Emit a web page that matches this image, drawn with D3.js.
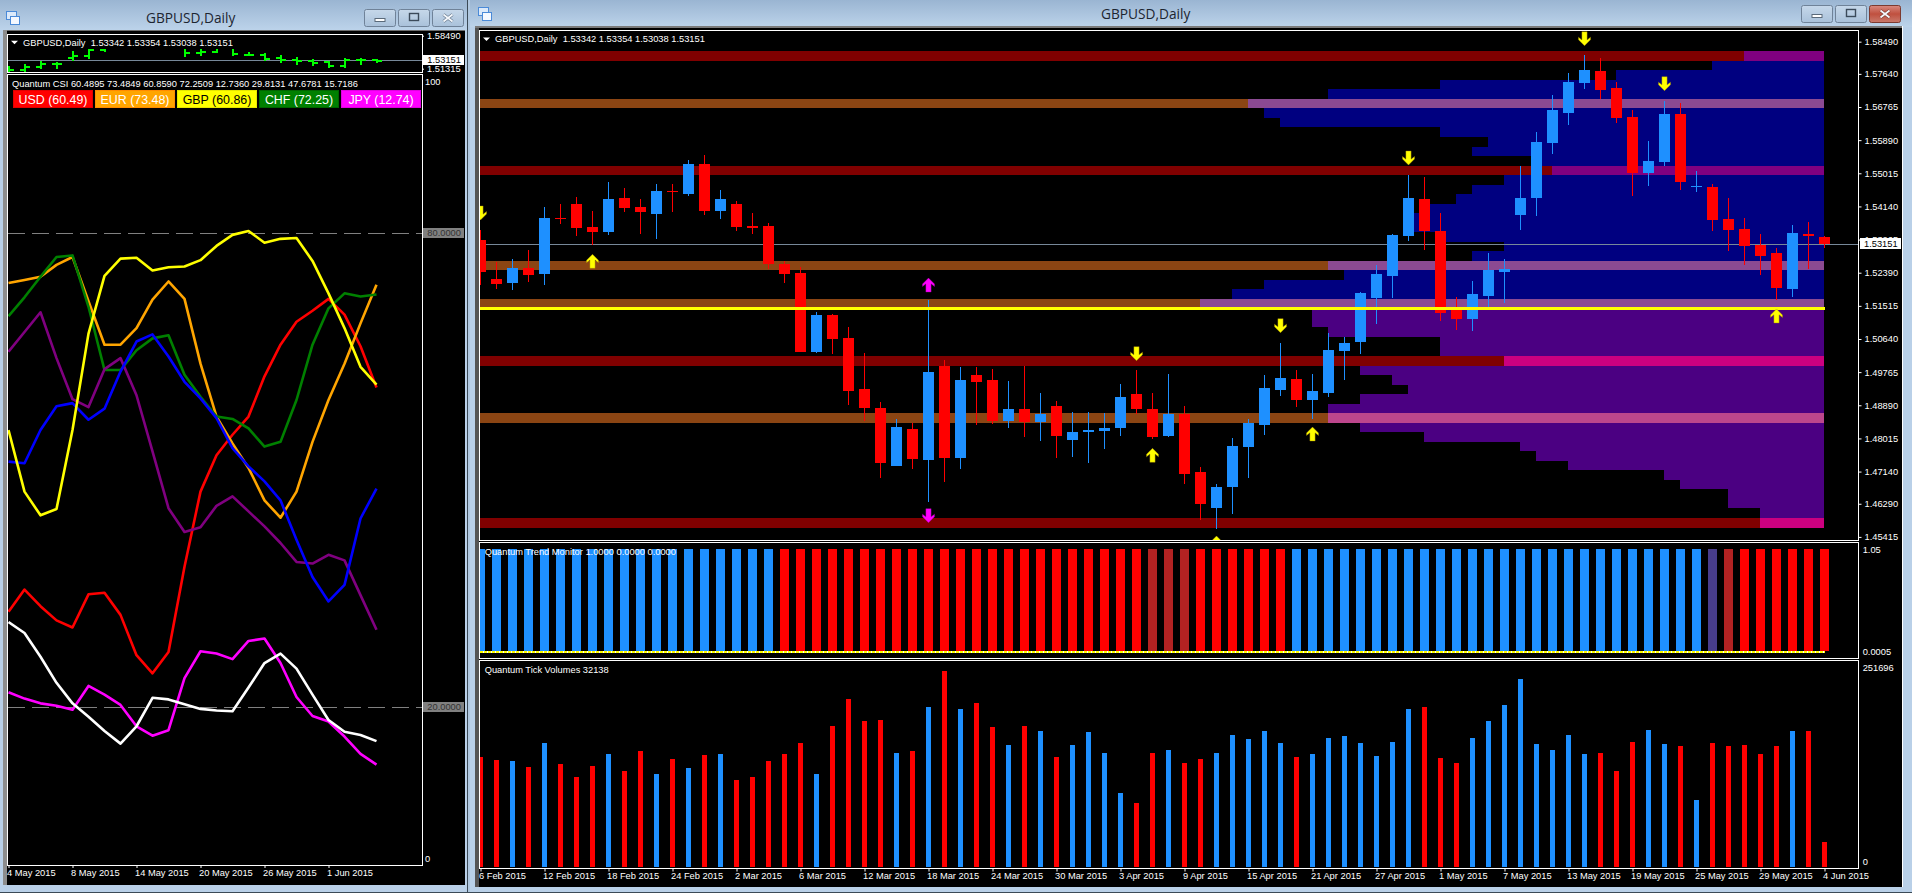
<!DOCTYPE html>
<html><head><meta charset="utf-8"><title>GBPUSD,Daily</title>
<script src="https://cdn.jsdelivr.net/npm/d3@7/dist/d3.min.js"></script>
<style>html,body{margin:0;padding:0;background:#b9d0e8;overflow:hidden}svg{display:block}
text{font-family:"Liberation Sans",Arial,sans-serif;font-size:9.3px;fill:#fff}
.domain{display:none}.tick line{stroke:#fff}
</style></head><body><svg id="c" width="1912" height="893"></svg>
<script>
const openP=[1.53254,1.52224,1.52119,1.52515,1.52356,1.53835,1.54204,1.53597,1.53465,1.54363,1.54125,1.53940,1.54548,1.54468,1.55260,1.54020,1.54204,1.53624,1.53624,1.52620,1.52383,1.50297,1.51274,1.50667,1.49320,1.48819,1.47288,1.48264,1.47446,1.49928,1.47499,1.49690,1.49558,1.48476,1.48792,1.48449,1.48872,1.47974,1.48185,1.48212,1.48291,1.49188,1.48792,1.48080,1.48660,1.47129,1.46179,1.46733,1.47789,1.48370,1.49294,1.49584,1.49030,1.49215,1.50324,1.50561,1.51723,1.52304,1.53360,1.54336,1.53492,1.51432,1.51168,1.51776,1.52409,1.53914,1.54363,1.55815,1.56607,1.57399,1.57716,1.57267,1.56501,1.55023,1.55313,1.56580,1.54653,1.54653,1.53808,1.53544,1.53122,1.52911,1.51960,1.53412,1.53342];
const closeP=[1.52418,1.52092,1.52515,1.52330,1.53835,1.53808,1.53571,1.53465,1.54336,1.54099,1.53993,1.54548,1.54521,1.55260,1.54020,1.54336,1.53597,1.53571,1.52620,1.52356,1.50297,1.51274,1.50640,1.49268,1.48819,1.47367,1.48317,1.47472,1.49769,1.47499,1.49558,1.49505,1.48476,1.48792,1.48449,1.48660,1.48080,1.48185,1.48238,1.48291,1.49109,1.48792,1.48053,1.48660,1.47076,1.46284,1.46733,1.47816,1.48423,1.49347,1.49611,1.49030,1.49268,1.50350,1.50535,1.51855,1.52356,1.53386,1.54363,1.53492,1.51327,1.51168,1.51828,1.52462,1.52488,1.54363,1.55841,1.56686,1.57425,1.57742,1.57214,1.56475,1.55023,1.55340,1.56580,1.54785,1.54680,1.53782,1.53518,1.53096,1.52832,1.51987,1.53439,1.53360,1.53151];
const highP=[1.53518,1.52682,1.52752,1.52990,1.54125,1.54204,1.54389,1.54020,1.54785,1.54627,1.54336,1.54732,1.54732,1.55366,1.55498,1.54574,1.54284,1.53967,1.53703,1.52700,1.52541,1.51353,1.51300,1.50957,1.50271,1.48977,1.48528,1.48423,1.51670,1.50086,1.49901,1.49901,1.49848,1.49532,1.49928,1.49215,1.49004,1.48713,1.48713,1.48687,1.49452,1.49822,1.49215,1.49716,1.48872,1.47261,1.46812,1.48027,1.48528,1.49690,1.50535,1.49822,1.49716,1.50799,1.50693,1.51881,1.52594,1.53412,1.54970,1.54917,1.53967,1.51749,1.52172,1.52911,1.52752,1.55208,1.56105,1.57082,1.57663,1.58138,1.58059,1.57425,1.56686,1.55868,1.56924,1.56871,1.55076,1.54732,1.54363,1.53835,1.53412,1.53043,1.53650,1.53729,1.53354];
const lowP=[1.52066,1.51960,1.51934,1.52145,1.52066,1.53676,1.53360,1.53122,1.53386,1.53993,1.53412,1.53280,1.53993,1.54416,1.53914,1.53808,1.53492,1.53412,1.52488,1.52119,1.50297,1.50271,1.50244,1.48898,1.48476,1.46971,1.47288,1.47208,1.46337,1.46865,1.47208,1.48370,1.48396,1.48291,1.48053,1.47948,1.47499,1.47525,1.47367,1.47736,1.48080,1.48660,1.48000,1.48053,1.46812,1.45862,1.45624,1.46020,1.46971,1.48106,1.49136,1.48845,1.48528,1.49109,1.49558,1.50244,1.51036,1.51723,1.53228,1.52990,1.51116,1.50878,1.50852,1.51459,1.51591,1.53518,1.53888,1.55524,1.56290,1.57240,1.56976,1.56343,1.54416,1.54680,1.55208,1.54574,1.54521,1.53492,1.52964,1.52594,1.52330,1.51670,1.51749,1.52488,1.53038];
const volumes=[141400,137600,136300,128600,159400,132500,115800,129900,145300,123500,149100,119600,138900,127300,144000,145300,112000,115800,136300,145300,159400,119600,181200,215800,187600,188900,146600,149100,205500,251696,203000,210700,179900,156800,181200,174800,141400,156800,173500,146600,95300,82500,146600,150400,133700,138900,146600,169600,164500,174800,159400,141400,145300,165800,168400,159400,142700,160700,203000,205500,140200,133700,165800,187600,208100,241400,158100,150400,169600,145300,146600,123500,160700,176000,158100,155500,86300,159400,155500,156800,145300,155500,174800,174800,32138];
const volumeUp=[0,0,1,0,1,0,0,0,1,0,0,1,0,1,0,1,0,0,0,0,0,1,0,0,0,0,1,0,1,0,1,0,0,1,0,1,0,1,1,1,1,0,0,1,0,0,1,1,1,1,1,0,1,1,1,1,1,1,1,0,0,0,1,1,1,1,1,1,1,1,0,0,0,1,1,0,1,0,0,0,0,0,1,0,0];
const trendState="BBBBBBBBBBBBBBBBBBBRRRRRRRRRRRRRRRRRRRRRRRFFFRRRRRRBBBBBBBBBBBBBBBBBBBBBBBBBBSFRRRRRR".split("");
const trendValue=1.0;
const dateTickBars=[0,4,8,12,16,20,24,28,32,36,40,44,48,52,56,60,64,68,72,76,80,84];
const dateTickLabels=["6 Feb 2015","12 Feb 2015","18 Feb 2015","24 Feb 2015","2 Mar 2015","6 Mar 2015","12 Mar 2015","18 Mar 2015","24 Mar 2015","30 Mar 2015","3 Apr 2015","9 Apr 2015","15 Apr 2015","21 Apr 2015","27 Apr 2015","1 May 2015","7 May 2015","13 May 2015","19 May 2015","25 May 2015","29 May 2015","4 Jun 2015"];
const priceTicks=[1.58490,1.57640,1.56765,1.55890,1.55015,1.54140,1.53265,1.52390,1.51515,1.50640,1.49765,1.48890,1.48015,1.47140,1.46290,1.45415];
const lastPrice=1.53151, supportPrice=1.51450;
// volume profile: price edges, row length counted in bars from the right, kind
const profileTop=[1.57980,1.57742,1.57478,1.57240,1.56976,1.56739,1.56475,1.56237,1.55973,1.55709,1.55472,1.55208,1.54970,1.54706,1.54468,1.54204,1.53967,1.53465,1.53201,1.52964,1.52700,1.52462,1.52198,1.51960,1.51696,1.51485,1.50957,1.50693,1.50192,1.49928,1.49690,1.49426,1.49188,1.48924,1.48687,1.48423,1.48185,1.47921,1.47684,1.47420,1.47182,1.46918,1.46680,1.46179];
const profileBottom=[1.57742,1.57478,1.57240,1.56976,1.56739,1.56475,1.56237,1.55973,1.55709,1.55472,1.55208,1.54970,1.54706,1.54468,1.54204,1.53967,1.53465,1.53201,1.52964,1.52700,1.52462,1.52198,1.51960,1.51696,1.51485,1.50957,1.50693,1.50192,1.49928,1.49690,1.49426,1.49188,1.48924,1.48687,1.48423,1.48185,1.47921,1.47684,1.47420,1.47182,1.46918,1.46680,1.46179,1.45915];
const profileBars=[7,13,24,31,36,35,34,24,21,22,18,17,20,22,23,25,26,24,20,22,31,30,35,37,39,32,31,24,20,29,27,26,29,31,31,29,25,19,18,16,10,9,6,4];
const profileAboveCount=25;
// support/resistance zones
const zoneTop=[1.58244,1.56976,1.55208,1.52700,1.51696,1.50192,1.48687,1.45915];
const zoneBottom=[1.57980,1.56739,1.54970,1.52462,1.51485,1.49928,1.48423,1.45651];
const zoneBase=["#800000","#8B4513","#800000","#8B4513","#8B4513","#800000","#8B4513","#800000"];
const zoneOver=["#800080","#8B4A92","#800080","#8B4A92","#8B4A92","#CC0080","#BC468C","#CC0080"];
const zoneOverBars=[5,36,17,31,39,20,31,4];
const arrowBar=[0,41,50,58,69,74,7,42,52,46,81,28,28];
const arrowPrice=[1.53967,1.50253,1.50992,1.55419,1.58569,1.57381,1.52691,1.47569,1.48132,1.45255,1.51248,1.52066,1.45976];
const arrowDir=[-1,-1,-1,-1,-1,-1,1,1,1,1,1,1,-1];
const arrowColor=["#ffff00","#ffff00","#ffff00","#ffff00","#ffff00","#ffff00","#ffff00","#ffff00","#ffff00","#ffff00","#ffff00","#ff00ff","#ff00ff"];
// CSI lines
const csiUSD=[32.1,34.9,32.8,31.0,30.1,34.3,34.5,31.7,26.6,24.3,27.0,37.8,47.3,51.9,54.5,56.8,61.9,65.9,68.8,70.2,71.7,69.7,65.7,60.49];
const csiEUR=[73.7,74.1,74.5,76.0,77.0,71.4,65.9,65.9,68.0,71.6,73.9,71.7,63.5,56.8,53.4,50.3,46.2,44.0,47.3,53.6,58.9,63.5,68.6,73.48];
const csiGBP=[55.1,47.3,44.3,45.1,55.1,67.3,74.6,76.8,76.9,75.3,75.7,75.8,76.6,78.4,79.8,80.3,78.8,79.3,79.4,76.5,72.4,68.0,63.1,60.86];
const csiCHF=[69.5,71.9,74.5,77.0,77.2,70.7,62.7,62.7,65.2,66.7,67.1,62.1,59.3,56.8,56.5,55.3,53.0,53.6,58.9,65.9,70.5,72.4,72.0,72.25];
const csiPurple=[65.0,67.5,70.0,64.2,59.0,58.0,62.8,64.2,59.5,52.4,45.2,42.2,42.8,45.5,46.7,44.8,42.9,40.8,38.4,38.2,39.3,38.6,34.2,29.81];
const csiBlue=[51.1,50.9,55.1,58.1,58.5,56.4,57.8,62.5,66.3,67.2,64.4,61.2,59.1,56.6,52.8,50.5,48.6,46.2,41.2,36.5,33.4,35.5,43.9,47.68];
const csiWhite=[30.8,29.4,26.4,23.1,20.5,18.8,17.0,15.4,17.6,21.2,21.0,20.4,19.8,19.6,19.5,22.5,25.6,26.8,24.9,21.6,18.4,16.9,16.5,15.72];
const csiJPY=[21.9,21.1,20.5,20.2,19.7,22.7,21.6,20.3,17.6,16.4,17.1,23.7,27.1,26.8,26.1,28.4,28.7,25.6,21.3,18.9,18.2,16.3,14.1,12.74];
const csiLines=[[csiUSD,"#ff0000"],[csiEUR,"#ffa500"],[csiCHF,"#008000"],[csiPurple,"#800080"],[csiBlue,"#0000ff"],[csiGBP,"#ffff00"],[csiJPY,"#ff00ff"],[csiWhite,"#ffffff"]];
const legendNames=["USD (60.49)","EUR (73.48)","GBP (60.86)","CHF (72.25)","JPY (12.74)"];
const legendFill=["#ff0000","#ffa500","#ffff00","#008000","#ff00ff"];
const legendEdge=["#e00000","#ff8c00","#e6e600","#006400","#e000e0"];
const legendText=["#ffffff","#ffffff","#000000","#ffffff","#ffffff"];
const leftTickBars=[0,4,8,12,16,20];
const leftTickLabels=["4 May 2015","8 May 2015","14 May 2015","20 May 2015","26 May 2015","1 Jun 2015"];
const miniStart=61;

const svg=d3.select("#c");
const defs=svg.append("defs");
const grad=defs.append("linearGradient").attr("id","tb").attr("x1",0).attr("y1",0).attr("x2",0).attr("y2",1);
grad.append("stop").attr("offset",0).attr("stop-color","#9ab5d2");
grad.append("stop").attr("offset",1).attr("stop-color","#bcd3ea");
const redg=defs.append("linearGradient").attr("id","cl").attr("x1",0).attr("y1",0).attr("x2",0).attr("y2",1);
redg.append("stop").attr("offset",0).attr("stop-color","#d98a80");
redg.append("stop").attr("offset",.5).attr("stop-color","#c0503f");
redg.append("stop").attr("offset",1).attr("stop-color","#c97a6c");
const btng=defs.append("linearGradient").attr("id","bt").attr("x1",0).attr("y1",0).attr("x2",0).attr("y2",1);
btng.append("stop").attr("offset",0).attr("stop-color","#c6d8ea");
btng.append("stop").attr("offset",1).attr("stop-color","#a9c1da");
function clip(id,x,y,w,h){defs.append("clipPath").attr("id",id).append("rect").attr("x",x).attr("y",y).attr("width",w).attr("height",h);}
clip("cMain",480,31,1378,509);clip("cTrend",480,543,1378,115);clip("cVol",480,661,1378,207);
clip("cMini",8,49,414,23);clip("cCsi",8,75,414,790);

function R(g,x,y,w,h,f){return g.append("rect").attr("x",x).attr("y",y).attr("width",w).attr("height",h).attr("fill",f).attr("shape-rendering","crispEdges");}
function T(g,x,y,s,o={}){const t=g.append("text").attr("x",x).attr("y",y).attr("dy",".35em").text(s);for(const k in o)t.style(k,o[k]);return t;}
// ---- chrome
const ch=svg.append("g");
R(ch,0,0,1912,893,"#b9d0e8");
function titleBar(x,w,y,h){R(ch,x,y,w,h,"url(#tb)");}
titleBar(0,467,0,30);titleBar(470,1442,0,27);
R(ch,467,0,1,893,"#3b4a57");R(ch,468,0,2,893,"#b0c8e0");
R(ch,0,892,1912,1,"#3b4a57");
R(ch,3,30,462,855,"#000");R(ch,3,30,462,1,"#6d6d6d");R(ch,3,30,4,855,"#8d8d8d");
R(ch,475,26,1427,861,"#000");R(ch,475,26,1427,2,"#7a7a7a");R(ch,475,28,4,859,"#555");R(ch,1902,26,1,861,"#fff");
T(ch,146,18,"GBPUSD,Daily",{"font-family":"'Open Sans'","font-size":"13.7px",fill:"#1c2530"});
T(ch,1101,14.5,"GBPUSD,Daily",{"font-family":"'Open Sans'","font-size":"13.7px",fill:"#1c2530"});
function winBtn(x,y,kind,close){
  const w=32,h=18;
  ch.append("rect").attr("x",x+.5).attr("y",y+.5).attr("width",w-1).attr("height",h-1).attr("rx",2).attr("fill",close?"url(#cl)":"url(#bt)").attr("stroke",close?"#7c3a30":"#6f8298");
  const cx=x+w/2,cy=y+h/2;
  if(kind==0)ch.append("rect").attr("x",cx-5).attr("y",cy+.5).attr("width",10).attr("height",3).attr("fill","#fff").attr("stroke","#5a6a7a");
  if(kind==1)ch.append("rect").attr("x",cx-4.5).attr("y",cy-4.5).attr("width",9).attr("height",7).attr("fill","none").attr("stroke","#3b4a5a").attr("stroke-width",1.4);
  if(kind==2){
    const d=`M${cx-4.5},${cy-3.5}L${cx+4.5},${cy+3.5}M${cx+4.5},${cy-3.5}L${cx-4.5},${cy+3.5}`;
    ch.append("path").attr("d",d).attr("stroke",close?"#7c3a30":"#6a7c90").attr("stroke-width",3.2);
    ch.append("path").attr("d",d).attr("stroke","#f4f8fc").attr("stroke-width",1.8);
  }
}
winBtn(364,9,0,false);winBtn(398,9,1,false);winBtn(432,9,2,false);
winBtn(1801,5,0,false);winBtn(1835,5,1,false);winBtn(1869,5,2,true);
function icon(x,y){
  ch.append("rect").attr("x",x+.5).attr("y",y+.5).attr("width",10).attr("height",8).attr("fill","#dbe9fa").attr("stroke","#4a8ad8");
  ch.append("rect").attr("x",x+4.5).attr("y",y+5.5).attr("width",9).attr("height",8).attr("fill","#f4f8ff").attr("stroke","#4a8ad8");
}
icon(6,11);icon(478,7);

// ---- right chart scales
const x=d3.scaleLinear().domain([0,84]).range([480.5,1824.5]);
const y=d3.scaleLinear().domain([1.58490,1.45415]).range([41.67,536.9]);
const n=d3.range(openP.length);
const main=svg.append("g").attr("clip-path","url(#cMain)");
const rowRight=x(84)-.5;
const profileColor=i=>i<profileAboveCount?"#000080":"#4B0082";
main.selectAll("rect.pf").data(profileBars).join("rect").attr("class","pf").attr("shape-rendering","crispEdges")
  .attr("x",d=>x(84-d)-.5).attr("width",d=>rowRight-(x(84-d)-.5))
  .attr("y",(d,i)=>y(profileTop[i])).attr("height",(d,i)=>y(profileBottom[i])-y(profileTop[i]))
  .attr("fill",(d,i)=>profileColor(i));
main.selectAll("rect.zb").data(zoneTop).join("rect").attr("class","zb").attr("shape-rendering","crispEdges")
  .attr("x",x(0)-.5).attr("width",rowRight-x(0)+.5).attr("y",d=>y(d)).attr("height",(d,i)=>y(zoneBottom[i])-y(d)).attr("fill",(d,i)=>zoneBase[i]);
main.selectAll("rect.zo").data(zoneTop).join("rect").attr("class","zo").attr("shape-rendering","crispEdges")
  .attr("x",(d,i)=>x(84-zoneOverBars[i])-.5).attr("width",(d,i)=>rowRight-(x(84-zoneOverBars[i])-.5)).attr("y",d=>y(d)).attr("height",(d,i)=>y(zoneBottom[i])-y(d)).attr("fill",(d,i)=>zoneOver[i]);
main.append("line").attr("x1",480).attr("x2",1858).attr("y1",Math.round(y(lastPrice))+.5).attr("y2",Math.round(y(lastPrice))+.5).attr("stroke","#778899").attr("stroke-width",1);
const isUp=i=>closeP[i]>openP[i];
const cCol=i=>isUp(i)?"#1E90FF":"#FF0000";
main.selectAll("rect.w").data(n).join("rect").attr("class","w").attr("shape-rendering","crispEdges")
  .attr("x",i=>x(i)-.5).attr("width",1).attr("y",i=>y(highP[i])).attr("height",i=>y(lowP[i])-y(highP[i])).attr("fill",cCol);
main.selectAll("rect.b").data(n).join("rect").attr("class","b").attr("shape-rendering","crispEdges")
  .attr("x",i=>x(i)-5.5).attr("width",11).attr("y",i=>y(Math.max(openP[i],closeP[i]))).attr("height",i=>Math.max(1,Math.abs(y(openP[i])-y(closeP[i])))).attr("fill",cCol);
main.append("rect").attr("x",480).attr("width",x(84)+.5-480).attr("y",y(supportPrice)-1.5).attr("height",3).attr("fill","#ffff00").attr("shape-rendering","crispEdges");
const arrowPath="M0,-7L6,-1L6,1.5L2.6,-1.2L2.6,7L-2.6,7L-2.6,-1.2L-6,1.5L-6,-1Z";
main.selectAll("path.ar").data(arrowBar).join("path").attr("class","ar").attr("d",arrowPath)
  .attr("transform",(d,i)=>`translate(${x(d)},${y(arrowPrice[i])}) scale(1,${arrowDir[i]})`)
  .attr("fill",(d,i)=>arrowColor[i]).attr("stroke",(d,i)=>arrowColor[i]=="#ffff00"?"#a08000":"#a000a0").attr("stroke-width",.4);

// price axis
const priceAxis=svg.append("g").attr("transform","translate(1858.5,0)")
  .call(d3.axisRight(y).tickValues(priceTicks).tickFormat(d3.format(".5f")).tickSize(3));
R(svg,1860,238,41,11,"#fff");
T(svg,1864,243.6,"1.53151",{fill:"#000"});

// trend monitor
const trendY=d3.scaleLinear().domain([0,1]).range([651,549]);
const trendCol={B:"#1E90FF",R:"#FF0000",F:"#B22222",S:"#483D8B"};
const trendG=svg.append("g").attr("clip-path","url(#cTrend)");
trendG.selectAll("rect").data(trendState).join("rect").attr("shape-rendering","crispEdges")
  .attr("x",(d,i)=>x(i)-4.5).attr("width",9).attr("y",trendY(trendValue)).attr("height",trendY(0)-trendY(trendValue)).attr("fill",d=>trendCol[d]);
svg.append("line").attr("x1",480).attr("x2",x(84)+.5).attr("y1",trendY(0)+1).attr("y2",trendY(0)+1).attr("stroke","#fff").attr("stroke-width",2);
svg.append("line").attr("x1",480).attr("x2",x(84)+.5).attr("y1",trendY(0)+1).attr("y2",trendY(0)+1).attr("stroke","#ffff00").attr("stroke-width",2).attr("stroke-dasharray","3,1");

// volumes
const vy=d3.scaleLinear().domain([0,251696]).range([867.3,671]);
const volG=svg.append("g").attr("clip-path","url(#cVol)");
volG.selectAll("rect").data(volumes).join("rect").attr("shape-rendering","crispEdges")
  .attr("x",(d,i)=>x(i)-2.5).attr("width",5).attr("y",d=>vy(d)).attr("height",d=>vy(0)-vy(d)).attr("fill",(d,i)=>volumeUp[i]?"#1E90FF":"#FF0000");
// date axis
const dax=svg.append("g").attr("transform","translate(0,868.5)")
  .call(d3.axisBottom(x).tickValues(dateTickBars).tickFormat((d,i)=>dateTickLabels[i]).tickSize(3));
dax.selectAll("text").attr("text-anchor","start").attr("dx","-2").attr("y",4);

// panel borders
function box(x0,y0,x1,y1){svg.append("rect").attr("x",x0).attr("y",y0).attr("width",x1-x0).attr("height",y1-y0).attr("fill","none").attr("stroke","#fff").attr("shape-rendering","crispEdges");}
box(479.5,30.5,1858.5,540.5);box(479.5,542.5,1858.5,658.5);box(479.5,660.5,1858.5,868.5);
// panel text
function tri(g,x0,y0){g.append("path").attr("d",`M${x0},${y0}h7l-3.5,3.5z`).attr("fill","#fff");}
tri(svg,483,37.5);T(svg,495,38.7,"GBPUSD,Daily  1.53342 1.53354 1.53038 1.53151").attr("xml:space","preserve");
T(svg,484.7,551.7,"Quantum Trend Monitor 1.0000 0.0000 0.0000");
T(svg,484.7,669.3,"Quantum Tick Volumes 32138");
T(svg,1862.7,549.6,"1.05");T(svg,1862.7,651.8,"0.0005");
T(svg,1862.7,667.7,"251696");T(svg,1862.7,861.5,"0");

// ---- left chart
const lx=d3.scaleLinear().domain([0,23]).range([8.5,376.5]);
const my=d3.scaleLinear().domain([1.58490,1.51315]).range([38.5,69]);
const mini=svg.append("g").attr("clip-path","url(#cMini)");
mini.append("line").attr("x1",8).attr("x2",422).attr("y1",60.5).attr("y2",60.5).attr("stroke","#778899");
const miniIdx=d3.range(miniStart,openP.length);
const miniG=mini.selectAll("g").data(miniIdx).join("g").attr("stroke","#00ff00").attr("stroke-width",2).attr("shape-rendering","crispEdges");
miniG.append("line").attr("x1",(d,k)=>lx(k)).attr("x2",(d,k)=>lx(k)).attr("y1",d=>my(highP[d])-1).attr("y2",d=>my(lowP[d])+1);
miniG.append("line").attr("x1",(d,k)=>lx(k)-5).attr("x2",(d,k)=>lx(k)).attr("y1",d=>my(openP[d])).attr("y2",d=>my(openP[d]));
miniG.append("line").attr("x1",(d,k)=>lx(k)).attr("x2",(d,k)=>lx(k)+5).attr("y1",d=>my(closeP[d])).attr("y2",d=>my(closeP[d]));

const cy=d3.scaleLinear().domain([0,100]).range([865.3,75.3]);
const cG=svg.append("g").attr("clip-path","url(#cCsi)");
[80,20].forEach(v=>cG.append("line").attr("x1",8).attr("x2",422).attr("y1",Math.round(cy(v))+.5).attr("y2",Math.round(cy(v))+.5).attr("stroke","#808080").attr("stroke-dasharray","17,7"));
const ln=d3.line().x((d,k)=>lx(k)).y(d=>cy(d));
cG.selectAll("path.l").data(csiLines).join("path").attr("class","l").attr("d",d=>ln(d[0])).attr("fill","none").attr("stroke",d=>d[1]).attr("stroke-width",2.6).attr("stroke-linejoin","round");

// left labels
box(7.5,34.5,422,72.5);box(7.5,74.5,422,865);
tri(svg,11,40.7);T(svg,23,42.4,"GBPUSD,Daily  1.53342 1.53354 1.53038 1.53151").attr("xml:space","preserve");
T(svg,12,83.4,"Quantum CSI 60.4895 73.4849 60.8590 72.2509 12.7360 29.8131 47.6781 15.7186");
const lg=svg.append("g");
lg.selectAll("rect").data(legendNames).join("rect").attr("shape-rendering","crispEdges")
  .attr("x",(d,i)=>13.5+i*82).attr("y",90.5).attr("width",79).attr("height",17)
  .attr("fill",(d,i)=>legendFill[i]).attr("stroke",(d,i)=>legendEdge[i]);
lg.selectAll("text").data(legendNames).join("text").attr("x",(d,i)=>53+i*82).attr("y",99.5).attr("dy",".35em").attr("text-anchor","middle")
  .text(d=>d).style("font-size","12.4px").style("fill",(d,i)=>legendText[i]);
// right axis labels left
svg.append("g").attr("transform","translate(422,0)").call(d3.axisRight(d3.scaleLinear().domain([1.58490,1.51315]).range([35.7,68.7])).tickValues([1.58490,1.51315]).tickFormat(d3.format(".5f")).tickSize(2));
R(svg,423,55,41,10,"#fff");T(svg,427.3,59.8,"1.53151",{fill:"#000"});
svg.append("g").attr("transform","translate(422,0)").call(d3.axisRight(d3.scaleLinear().domain([0,100]).range([858.3,81.7])).tickValues([0,100]).tickFormat(d3.format("d")).tickSize(0));
R(svg,423,228,41,10,"#808080");R(svg,423,702,41,10,"#808080");
T(svg,427.3,232.8,"80.0000",{fill:"#333"});T(svg,427.3,706.8,"20.0000",{fill:"#333"});
const ldax=svg.append("g").attr("transform","translate(0,865)").call(d3.axisBottom(lx).tickValues(leftTickBars).tickFormat((d,i)=>leftTickLabels[i]).tickSize(3));
ldax.selectAll("text").attr("text-anchor","start").attr("dx","-2").attr("y",4);
</script></body></html>
